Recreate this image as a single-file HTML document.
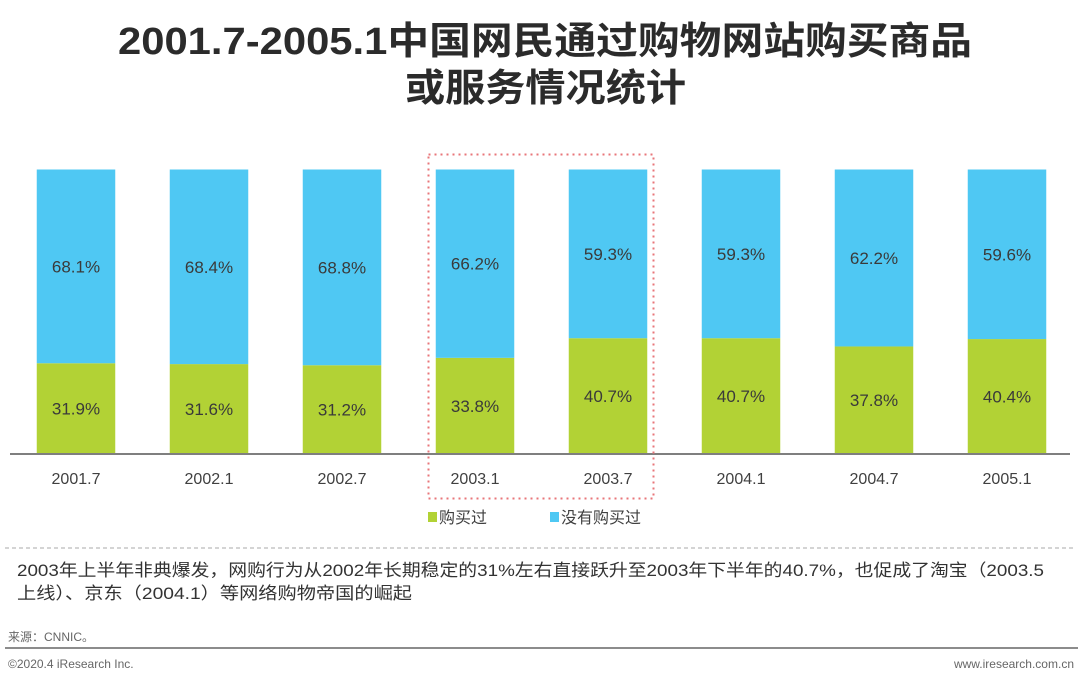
<!DOCTYPE html>
<html><head><meta charset="utf-8"><style>
body{margin:0;width:1080px;height:683px;background:#fff;overflow:hidden;font-family:"Liberation Sans","Noto Sans CJK SC",sans-serif;}
</style></head><body>
<svg width="1080" height="683" xmlns="http://www.w3.org/2000/svg" font-family="Liberation Sans, Noto Sans CJK SC, sans-serif">
<text x="118" y="54" font-size="38" font-weight="bold" fill="#2b2b2b" textLength="854" lengthAdjust="spacingAndGlyphs">2001.7-2005.1中国网民通过购物网站购买商品</text>
<text x="405" y="101" font-size="38" font-weight="bold" fill="#2b2b2b" textLength="281" lengthAdjust="spacingAndGlyphs">或服务情况统计</text>
<g id="bars"></g>
<line x1="10" y1="454" x2="1070" y2="454" stroke="#7f7f7f" stroke-width="2"/>
<rect x="428.5" y="154.5" width="225" height="344" fill="none" stroke="#e8767a" stroke-width="2" stroke-dasharray="2,4"/>
<g>
<rect x="428" y="512" width="9" height="10" fill="#b2d235"/>
<text x="439" y="523" font-size="16" fill="#404040">购买过</text>
<rect x="550" y="512" width="9" height="10" fill="#4fc8f3"/>
<text x="561" y="523" font-size="16" fill="#404040">没有购买过</text>
</g>
<line x1="5" y1="548" x2="1075" y2="548" stroke="#aaa" stroke-width="1" stroke-dasharray="4,3"/>
<text x="17" y="576" font-size="17" fill="#333" textLength="1027" lengthAdjust="spacingAndGlyphs">2003年上半年非典爆发，网购行为从2002年长期稳定的31%左右直接跃升至2003年下半年的40.7%，也促成了淘宝（2003.5</text>
<text x="17" y="599" font-size="17" fill="#333" textLength="395" lengthAdjust="spacingAndGlyphs">上线）、京东（2004.1）等网络购物帝国的崛起</text>
<text x="8" y="641" font-size="12" fill="#666">来源：CNNIC。</text>
<line x1="5" y1="648" x2="1078" y2="648" stroke="#8c8c8c" stroke-width="2"/>
<text x="8" y="668" font-size="12" fill="#666">©2020.4 iResearch Inc.</text>
<text x="1074" y="668" font-size="12" fill="#666" text-anchor="end">www.iresearch.com.cn</text>
</svg>
<script>
const categories=["2001.7","2002.1","2002.7","2003.1","2003.7","2004.1","2004.7","2005.1"];
const bought=[31.9,31.6,31.2,33.8,40.7,40.7,37.8,40.4];
const notBought=[68.1,68.4,68.8,66.2,59.3,59.3,62.2,59.6];
const NS="http://www.w3.org/2000/svg";
const g=document.getElementById('bars');
const base=454, top0=169.5, bw=78.5;
function y(v){return base-(v/100)*(base-top0);}
function xc(i){return 76+i*133;}
function mk(t,a){const e=document.createElementNS(NS,t);for(const k in a)e.setAttribute(k,a[k]);g.appendChild(e);return e;}
categories.forEach((c,i)=>{
 const x=xc(i)-bw/2;
 const yb=y(bought[i]), yt=y(bought[i]+notBought[i]);
 const r1=mk('rect',{x:x,y:yb,width:bw,height:base-yb,fill:'#b2d235'});
 
 
 const r2=mk('rect',{x:x,y:yt,width:bw,height:yb-yt,fill:'#4fc8f3'});
 
 
 const t1=mk('text',{x:xc(i),y:(yb+base)/2+6,'text-anchor':'middle','font-size':'17',fill:'#3a3a3a'});
 t1.textContent=bought[i].toFixed(1)+'%';
 
 
 const t2=mk('text',{x:xc(i),y:(yt+yb)/2+6,'text-anchor':'middle','font-size':'17',fill:'#3a3a3a'});
 t2.textContent=notBought[i].toFixed(1)+'%';
 
 
 const t3=mk('text',{x:xc(i),y:484,'text-anchor':'middle','font-size':'16',fill:'#404040'});
 t3.textContent=c;
 
 
});
</script>
</body></html>
